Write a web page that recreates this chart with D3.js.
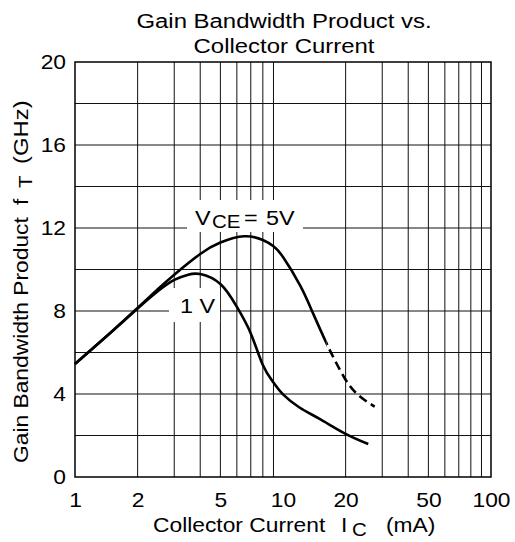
<!DOCTYPE html>
<html>
<head>
<meta charset="utf-8">
<script src="https://cdn.jsdelivr.net/npm/d3@7"></script>
<style>
  html, body { margin: 0; padding: 0; background: #fff; }
  svg { display: block; font-family: "Liberation Sans", Arial, Helvetica, sans-serif; }
</style>
</head>
<body>
<svg id="chart" width="515" height="542"></svg>
<script>
// Collector current (mA) and gain-bandwidth product fT (GHz)
const vce5Current = [1, 1.5, 2, 2.5, 3, 4, 5, 6.5, 8, 9, 10, 12.1, 14, 16.2, 17.4, 19.8, 23.0, 27.6];
const vce5Ft      = [5.45, 7.0, 8.15, 9.05, 9.75, 10.75, 11.3, 11.6, 11.42, 11.12, 10.6, 9.22, 7.85, 6.44, 5.8, 4.76, 3.95, 3.39];
// above this current the 5 V curve is extrapolated (dashed)
const vce5DashFrom = 16.2;
const vce1Current = [1, 1.5, 2, 2.5, 3, 3.5, 4, 5, 6, 7, 8, 9, 10, 12, 15, 20, 25.7];
const vce1Ft      = [5.45, 7.0, 8.12, 8.95, 9.5, 9.75, 9.78, 9.3, 8.2, 6.92, 5.4, 4.55, 3.98, 3.35, 2.8, 2.08, 1.59];

const xTickValues = [1, 2, 5, 10, 20, 50, 100];
const xGridValues = [2, 3, 4, 5, 6, 7, 8, 9, 20, 30, 40, 50, 60, 70, 80, 90];
const yTickValues = [0, 4, 8, 12, 16, 20];
const yGridValues = [2, 4, 6, 8, 10, 12, 14, 16, 18];

const svg = d3.select("#chart");
const plotL = 75, plotR = 491, plotT = 62, plotB = 477;
const SX = 1.14; // horizontal stretch of the lettering

const x = d3.scaleLog().domain([1, 100]).range([plotL, plotR]);
const y = d3.scaleLinear().domain([0, 20]).range([plotB, plotT]);

// grid
const grid = svg.append("g").attr("stroke", "#111").attr("stroke-width", 1);
grid.selectAll("line.v").data(xGridValues).join("line").attr("class", "v")
  .attr("x1", d => x(d)).attr("x2", d => x(d)).attr("y1", plotT).attr("y2", plotB);
grid.selectAll("line.h").data(yGridValues).join("line").attr("class", "h")
  .attr("x1", plotL).attr("x2", plotR).attr("y1", d => y(d)).attr("y2", d => y(d));

// label backgrounds that clear the grid
svg.append("rect").attr("x", 187).attr("y", 200).attr("width", 116).attr("height", 32).attr("fill", "#fff");
svg.append("rect").attr("x", 169).attr("y", 288).attr("width", 51).attr("height", 34).attr("fill", "#fff");

// frame
svg.append("rect").attr("x", plotL).attr("y", plotT).attr("width", plotR - plotL).attr("height", plotB - plotT)
  .attr("fill", "none").attr("stroke", "#000").attr("stroke-width", 1.5);

// axes (labels only, the grid and frame carry the lines)
const xAxis = d3.axisBottom(x).tickValues(xTickValues).tickFormat(d3.format("d")).tickSize(0).tickPadding(0);
const gx = svg.append("g").attr("transform", `translate(0,${plotB})`).call(xAxis);
gx.select(".domain").remove();
gx.selectAll("text").attr("font-size", 20).attr("fill", "#000")
  .attr("font-family", "Liberation Sans, Arial, sans-serif")
  .attr("dy", null).attr("y", 0).attr("text-anchor", "middle")
  .attr("transform", `translate(0,30) scale(${SX},1)`);

const yAxis = d3.axisLeft(y).tickValues(yTickValues).tickSize(0).tickPadding(0);
const gy = svg.append("g").attr("transform", `translate(${plotL},0)`).call(yAxis);
gy.select(".domain").remove();
gy.selectAll("text").attr("font-size", 20).attr("fill", "#000")
  .attr("font-family", "Liberation Sans, Arial, sans-serif")
  .attr("x", 0).attr("dy", "0.35em").attr("text-anchor", "end")
  .attr("transform", `translate(-9,-1) scale(${SX},1)`);

// curves
const defs = svg.append("defs");
const xSplit = x(vce5DashFrom);
defs.append("clipPath").attr("id", "solidPart").append("rect")
  .attr("x", 0).attr("y", 0).attr("width", xSplit).attr("height", 542);
defs.append("clipPath").attr("id", "dashPart").append("rect")
  .attr("x", xSplit).attr("y", 0).attr("width", 515 - xSplit).attr("height", 542);

const line = d3.line().x(d => x(d[0])).y(d => y(d[1])).curve(d3.curveNatural);
const zip = (a, b) => a.map((v, i) => [v, b[i]]);
const curves = svg.append("g").attr("fill", "none").attr("stroke", "#000")
  .attr("stroke-width", 2.6).attr("stroke-linecap", "butt");
const d5 = line(zip(vce5Current, vce5Ft));
curves.append("path").attr("d", d5).attr("clip-path", "url(#solidPart)");
curves.append("path").attr("d", d5).attr("clip-path", "url(#dashPart)")
  .attr("stroke-dasharray", "9,5").attr("stroke-dashoffset", 0);
curves.append("path").attr("d", line(zip(vce1Current, vce1Ft)));

// text helper with horizontal stretch
function label(txt, px, py, size, anchor) {
  return svg.append("text").attr("transform", `translate(${px},${py}) scale(${SX},1)`)
    .attr("font-size", size).attr("text-anchor", anchor || "start").attr("fill", "#000").text(txt);
}

// title
label("Gain Bandwidth Product vs.", 284, 28, 21, "middle");
label("Collector Current", 284, 53, 21, "middle");

// curve labels
label("V", 195, 225, 20.5);
label("CE", 212, 228, 18);
label("=", 244, 225, 20.5);
label("5V", 266, 225, 20.5);
label("1 V", 180, 313, 20.5);

// x-axis title
label("Collector Current", 153, 532, 20);
label("I", 341, 532, 20);
label("C", 352, 536, 18);
label("(mA)", 386, 532, 20);

// y-axis title (rotated, pieces placed along the axis)
function vlabel(txt, px, py, size) {
  return svg.append("text").attr("transform", `translate(${px},${py}) rotate(-90) scale(${SX},1)`)
    .attr("font-size", size).attr("fill", "#000").text(txt);
}
vlabel("Gain Bandwidth Product", 28, 463, 20);
vlabel("f", 28, 205, 20);
vlabel("T", 32, 188, 18);
vlabel("(GHz)", 28, 164, 21);
</script>
</body>
</html>
